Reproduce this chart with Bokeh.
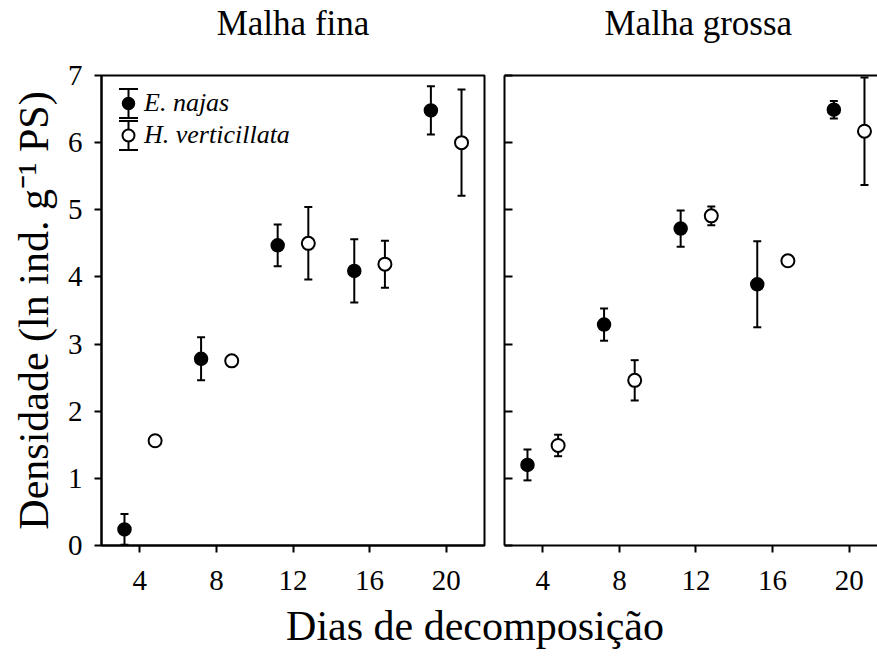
from bokeh.plotting import figure
from bokeh.models import (ColumnDataSource, Whisker, TeeHead, Legend, LegendItem,
                          LinearAxis, Range1d, Div, FixedTicker, Title)
from bokeh.layouts import row, column
from bokeh.transform import dodge
from bokeh.embed import file_html
from bokeh.resources import INLINE

# ---------------- data ----------------
days = [4, 8, 12, 16, 20]
x_ticks = [4, 8, 12, 16, 20]
y_ticks = [0, 1, 2, 3, 4, 5, 6, 7]

fina_najas = [0.24, 2.78, 4.47, 4.09, 6.48]
fina_najas_err = [0.23, 0.32, 0.31, 0.47, 0.36]
fina_vert = [1.56, 2.75, 4.50, 4.19, 6.00]
fina_vert_err = [0.04, 0.06, 0.54, 0.35, 0.79]

grossa_najas = [1.20, 3.29, 4.72, 3.89, 6.49]
grossa_najas_err = [0.23, 0.24, 0.27, 0.64, 0.13]
grossa_vert = [1.49, 2.46, 4.91, 4.24, 6.17]
grossa_vert_err = [0.16, 0.30, 0.14, 0.04, 0.80]

panel_titles = ["Malha fina", "Malha grossa"]
series_names = ["E. najas", "H. verticillata"]
y_label = "Densidade (ln ind. g\u207b\u00b9 PS)"
x_label = "Dias de decomposição"

FONT = "Liberation Serif"
TICK_SIZE = "29px"
FRAME_H = 470
FIG_H = 603
TOP = 75


def src(means, errs):
    return ColumnDataSource(dict(
        day=days, y=means,
        upper=[m + e for m, e in zip(means, errs)],
        lower=[m - e for m, e in zip(means, errs)],
    ))


def style_axis(ax):
    ax.axis_line_width = 2
    ax.axis_line_color = "black"
    ax.major_tick_line_width = 2
    ax.major_tick_line_color = "black"
    ax.minor_tick_line_color = None
    ax.major_label_text_font = FONT
    ax.major_label_text_font_size = TICK_SIZE
    ax.major_label_text_color = "black"
    ax.axis_label_text_font = FONT
    ax.axis_label_text_font_style = "normal"
    ax.axis_label_text_color = "black"


def add_title(p, text, align, offset):
    # invisible spacer keeps the title clear of the frame
    p.add_layout(Title(text=" ", text_font_size="1px", standoff=29), "above")
    p.add_layout(Title(text=text, align=align, offset=offset, text_font=FONT,
                       text_font_size="35px", text_font_style="normal",
                       text_color="black", standoff=2), "above")


def make_panel(title, najas, najas_err, vert, vert_err, first, x_end, width,
               mb_left, mb_right):
    p = figure(width=width, height=FIG_H, output_backend="svg", toolbar_location=None,
               x_range=Range1d(2, x_end), y_range=Range1d(0, 7),
               min_border_left=mb_left, min_border_right=mb_right,
               min_border_top=TOP, min_border_bottom=FIG_H - TOP - FRAME_H)
    p.xgrid.visible = False
    p.ygrid.visible = False
    p.background_fill_color = "white"
    p.border_fill_color = "white"

    s_e = src(najas, najas_err)
    s_h = src(vert, vert_err)
    for s, off in ((s_e, -0.8), (s_h, 0.8)):
        w = Whisker(source=s, base=dodge("day", off), upper="upper", lower="lower",
                    dimension="height", line_width=2, line_color="black",
                    upper_head=TeeHead(size=8, line_width=2, line_color="black"),
                    lower_head=TeeHead(size=8, line_width=2, line_color="black"),
                    level="underlay")
        p.add_layout(w)
    r_e = p.scatter(x=dodge("day", -0.8), y="y", source=s_e, size=13, marker="circle",
                    fill_color="black", line_color="black", line_width=1.5)
    r_h = p.scatter(x=dodge("day", 0.8), y="y", source=s_h, size=13, marker="circle",
                    fill_color="white", line_color="black", line_width=2)

    p.xaxis.ticker = FixedTicker(ticks=x_ticks)
    p.yaxis.ticker = FixedTicker(ticks=y_ticks)
    style_axis(p.xaxis[0])
    style_axis(p.yaxis[0])
    p.xaxis.major_tick_out = 7
    p.xaxis.major_tick_in = 0
    p.xaxis.major_label_standoff = 18

    if first:
        p.yaxis.major_tick_out = 7
        p.yaxis.major_tick_in = 0
        p.yaxis.major_label_standoff = 12
        p.yaxis.axis_label = y_label
        p.yaxis.axis_label_text_font_size = "42px"
        p.yaxis.axis_label_standoff = 8
        p.outline_line_color = "black"
        p.outline_line_width = 2
        add_title(p, title, "center", 0)

        # legend: markers from Legend, I-beams drawn behind them in screen units
        pad, gw, gh = 12, 30, 32
        cx = pad + gw / 2
        centers = [FRAME_H - (pad + gh / 2), FRAME_H - (pad + gh / 2 + gh)]
        half = 14.5
        leg_src = ColumnDataSource(dict(base=[cx, cx],
                                        upper=[c + half for c in centers],
                                        lower=[c - half for c in centers]))
        p.add_layout(Whisker(source=leg_src, base="base", upper="upper", lower="lower",
                             base_units="screen", upper_units="screen", lower_units="screen",
                             dimension="height", line_width=2, line_color="black",
                             upper_head=TeeHead(size=19, line_width=2, line_color="black"),
                             lower_head=TeeHead(size=19, line_width=2, line_color="black"),
                             level="underlay"))
        legend = Legend(items=[LegendItem(label=series_names[0], renderers=[r_e]),
                               LegendItem(label=series_names[1], renderers=[r_h])],
                        location="top_left", label_text_font=FONT,
                        label_text_font_style="italic", label_text_font_size="26px",
                        label_text_color="black",
                        glyph_width=gw, glyph_height=gh, spacing=0, padding=pad, margin=0,
                        label_standoff=1, border_line_alpha=0, background_fill_alpha=0)
        p.add_layout(legend)
    else:
        p.yaxis.major_tick_out = 0
        p.yaxis.major_tick_in = 8
        p.yaxis.major_label_overrides = {t: "" for t in y_ticks}
        p.yaxis.major_label_standoff = 0
        p.outline_line_color = None
        top = LinearAxis(ticker=FixedTicker(ticks=[]), axis_line_width=2,
                         axis_line_color="black",
                         major_tick_out=0, major_tick_in=0, major_label_standoff=0)
        p.add_layout(top, "above")
        add_title(p, title, "left", 100)
    return p


p1 = make_panel(panel_titles[0], fina_najas, fina_najas_err, fina_vert, fina_vert_err,
                True, 22, 495, 101, 11)
p2 = make_panel(panel_titles[1], grossa_najas, grossa_najas_err, grossa_vert, grossa_vert_err,
                False, 21.48, 382, 9, 0)

xlab = Div(text=x_label, width=800, height=46, margin=(0, 0, 0, 75),
           styles={"text-align": "center", "font-family": FONT, "font-size": "42px",
                   "line-height": "46px", "color": "black", "white-space": "nowrap"})

layout = column(row(p1, p2, spacing=0), xlab, spacing=0)

open("out.html", "w").write(file_html(layout, INLINE))
